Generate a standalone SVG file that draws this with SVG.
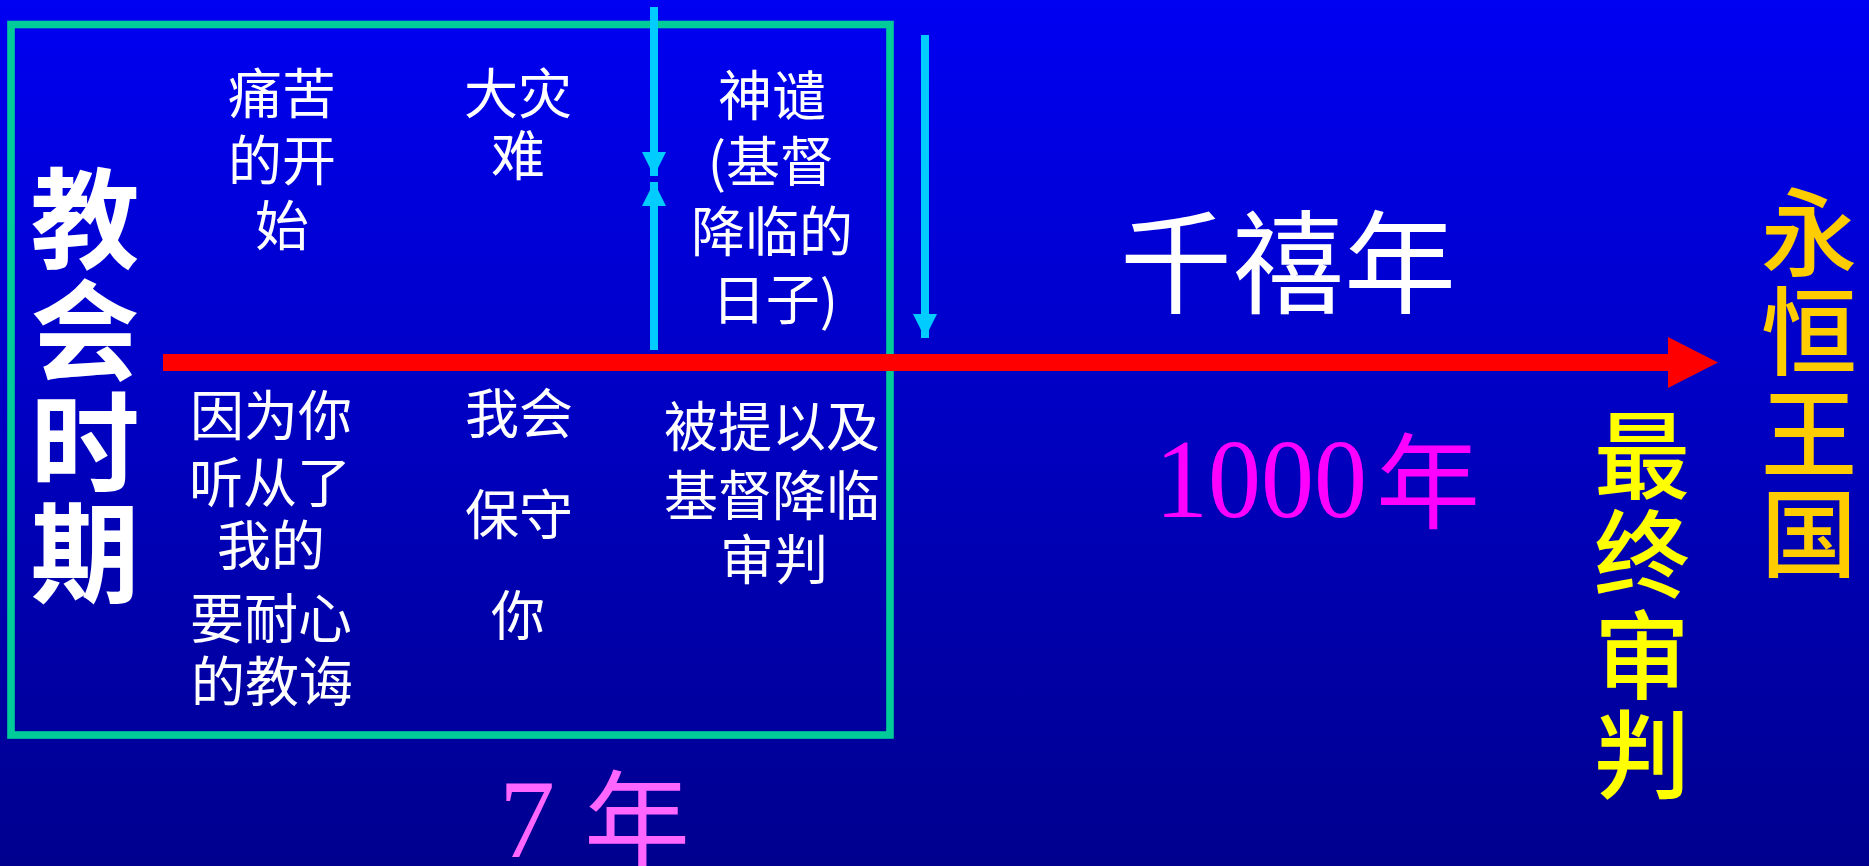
<svg xmlns="http://www.w3.org/2000/svg" width="1869" height="866" viewBox="0 0 1869 866">
<style>
.w{fill:#ffffff;font-family:"Noto Sans CJK SC","Liberation Serif",sans-serif;font-size:54px;text-anchor:middle;dominant-baseline:central}
.big{fill:#ffffff;font-family:"Noto Sans CJK SC",sans-serif;font-weight:bold;font-size:109px;text-anchor:middle;dominant-baseline:central}
.y{fill:#ffff00;font-family:"Noto Sans CJK SC",sans-serif;font-weight:500;font-size:96px;text-anchor:middle;dominant-baseline:central}
.g{fill:#ffcc00;font-family:"Noto Sans CJK SC",sans-serif;font-weight:500;font-size:96px;text-anchor:middle;dominant-baseline:central}
.cy{stroke:#00ccff;stroke-width:8;fill:none}
</style>
<defs>
<linearGradient id="bg" x1="0" y1="0" x2="0" y2="1">
<stop offset="0" stop-color="#0000f2"/>
<stop offset="1" stop-color="#00008e"/>
</linearGradient>
<marker id="ah" viewBox="0 0 24 24" refX="24" refY="12" markerWidth="24" markerHeight="24" markerUnits="userSpaceOnUse" orient="auto">
<path d="M0,0 L24,12 L0,24 Z" fill="#00ccff"/>
</marker>
</defs>
<rect x="0" y="0" width="1869" height="866" fill="url(#bg)"/>

<g id="period-box">
<rect x="11" y="24.5" width="879" height="710.5" fill="none" stroke="#00cc99" stroke-width="7.6"/>
</g>

<g id="connectors">
<polygon points="163,354 1668,354 1668,337 1718,362.5 1668,388 1668,371 163,371" fill="#ff0000"/>
<line class="cy" x1="654" y1="7" x2="654" y2="176" marker-end="url(#ah)"/>
<line class="cy" x1="654" y1="350" x2="654" y2="182" marker-end="url(#ah)"/>
<line class="cy" x1="925" y1="35" x2="925" y2="338" marker-end="url(#ah)"/>
</g>

<g id="church-age">
<text class="big"><tspan x="85" y="212">教</tspan><tspan x="85" y="324">会</tspan><tspan x="85" y="436">时</tspan><tspan x="85" y="546">期</tspan></text>
</g>

<g id="sorrows">
<text class="w"><tspan x="282" y="90">痛苦</tspan><tspan x="282" y="157">的开</tspan><tspan x="282" y="222">始</tspan></text>
</g>

<g id="tribulation">
<text class="w"><tspan x="518" y="90">大灾</tspan><tspan x="518" y="152">难</tspan></text>
</g>

<g id="wrath">
<text class="w"><tspan x="772" y="92">神谴</tspan><tspan x="771" y="158">(基督</tspan><tspan x="772" y="228">降临的</tspan><tspan x="775" y="296">日子)</tspan></text>
</g>

<g id="promise">
<text class="w"><tspan x="271" y="412">因为你</tspan><tspan x="270" y="479">听从了</tspan><tspan x="271" y="542">我的</tspan><tspan x="271" y="615">要耐心</tspan><tspan x="272" y="678">的教诲</tspan></text>
</g>

<g id="keep">
<text class="w"><tspan x="519" y="410">我会</tspan><tspan x="519" y="511">保守</tspan><tspan x="518" y="612">你</tspan></text>
</g>

<g id="rapture">
<text class="w"><tspan x="772" y="423">被提以及</tspan><tspan x="772" y="492">基督降临</tspan><tspan x="774" y="556">审判</tspan></text>
</g>

<g id="seven-years">
<text x="499" y="857" font-family="Liberation Serif,serif" font-size="112" fill="#ff66ff">7</text>
<text x="637" y="813" font-family="Noto Sans CJK SC,sans-serif" font-size="106" fill="#ff66ff" text-anchor="middle" dominant-baseline="central">年</text>
</g>

<g id="millennium">
<text x="1288" y="256" font-family="Noto Sans CJK SC,sans-serif" font-size="112" fill="#ffffff" text-anchor="middle" dominant-baseline="central">千禧年</text>
</g>

<g id="thousand-years">
<text x="1155" y="517" font-family="Liberation Serif,serif" font-size="112" fill="#ff00ff" textLength="212" lengthAdjust="spacingAndGlyphs">1000</text>
<text x="1428" y="475" font-family="Noto Sans CJK SC,sans-serif" font-size="104" fill="#ff00ff" text-anchor="middle" dominant-baseline="central">年</text>
</g>

<g id="final-judgment">
<text class="y"><tspan x="1642" y="449">最</tspan><tspan x="1642" y="548">终</tspan><tspan x="1642" y="649">审</tspan><tspan x="1642" y="748">判</tspan></text>
</g>

<g id="eternal-kingdom">
<text class="g"><tspan x="1809" y="226">永</tspan><tspan x="1809" y="325">恒</tspan><tspan x="1809" y="427">王</tspan><tspan x="1809" y="527">国</tspan></text>
</g>
</svg>
